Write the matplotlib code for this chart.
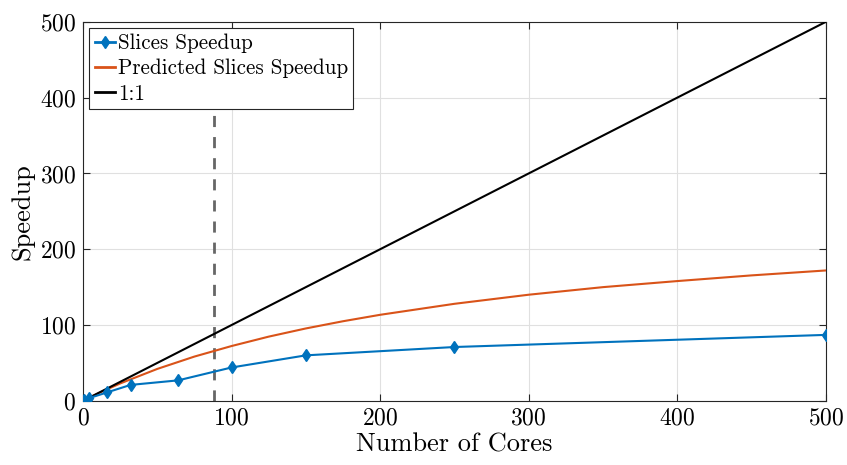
import numpy as np
import matplotlib.pyplot as plt

plt.rcParams['font.family'] = 'cmr10'
plt.rcParams['axes.formatter.use_mathtext'] = True
plt.rcParams['mathtext.fontset'] = 'cm'

# measured speedup of the slices version
cores = [1, 4, 16, 32, 64, 100, 150, 250, 500]
speedup = [1, 3.5, 11, 21, 27, 44, 60, 71, 87]

# predicted speedup curve
pred_cores = [1, 10, 25, 50, 75, 100, 125, 150, 175, 200, 250, 300, 350, 400, 450, 500]
pred_speedup = [1, 9.7, 22.9, 42.1, 58.4, 72.3, 84.7, 95.5, 105, 113.5, 128, 140, 150, 158, 165.5, 172]

ideal = [1, 500]
x_marker = 88  # dashed reference line

xticks = [0, 100, 200, 300, 400, 500]
yticks = [0, 100, 200, 300, 400, 500]

fig = plt.figure(figsize=(8.47, 4.65), dpi=100)
ax = fig.add_axes([0.098, 0.138, 0.877, 0.815])

ax.plot(cores, speedup, color='#0072BD', linewidth=1.5, marker='d',
        markersize=6.5, label='Slices Speedup', zorder=4)
ax.plot(pred_cores, pred_speedup, color='#D95319', linewidth=1.5,
        label='Predicted Slices Speedup', zorder=3)
ax.plot(ideal, ideal, color='k', linewidth=1.5, label='1:1', zorder=3)
ax.axvline(x_marker, color='0.4', linewidth=2, dashes=(4, 3.6), zorder=2)

ax.set_xlim(0, 500)
ax.set_ylim(0, 500)
ax.set_xticks(xticks)
ax.set_yticks(yticks)

ax.grid(True, color='0.88', linewidth=0.8)
ax.set_axisbelow(True)
ax.tick_params(direction='in', top=True, right=True, length=5,
               width=0.8, color='0.15', labelsize=17, pad=5)
for s in ax.spines.values():
    s.set_color('0.15')
    s.set_linewidth(0.8)

ax.set_xlabel('Number of Cores', fontsize=19, labelpad=2)
ax.set_ylabel('Speedup', fontsize=19, labelpad=4)

leg = ax.legend(loc='upper left', fontsize=15.2, frameon=True, fancybox=False,
                framealpha=1, edgecolor='0.15', handlelength=0.95,
                handletextpad=0.15, borderpad=0.25, labelspacing=0.28,
                borderaxespad=0.3)
leg.get_frame().set_linewidth(0.8)
for h in leg.get_lines():
    h.set_linewidth(2)

fig.savefig('out.png', dpi=100)
